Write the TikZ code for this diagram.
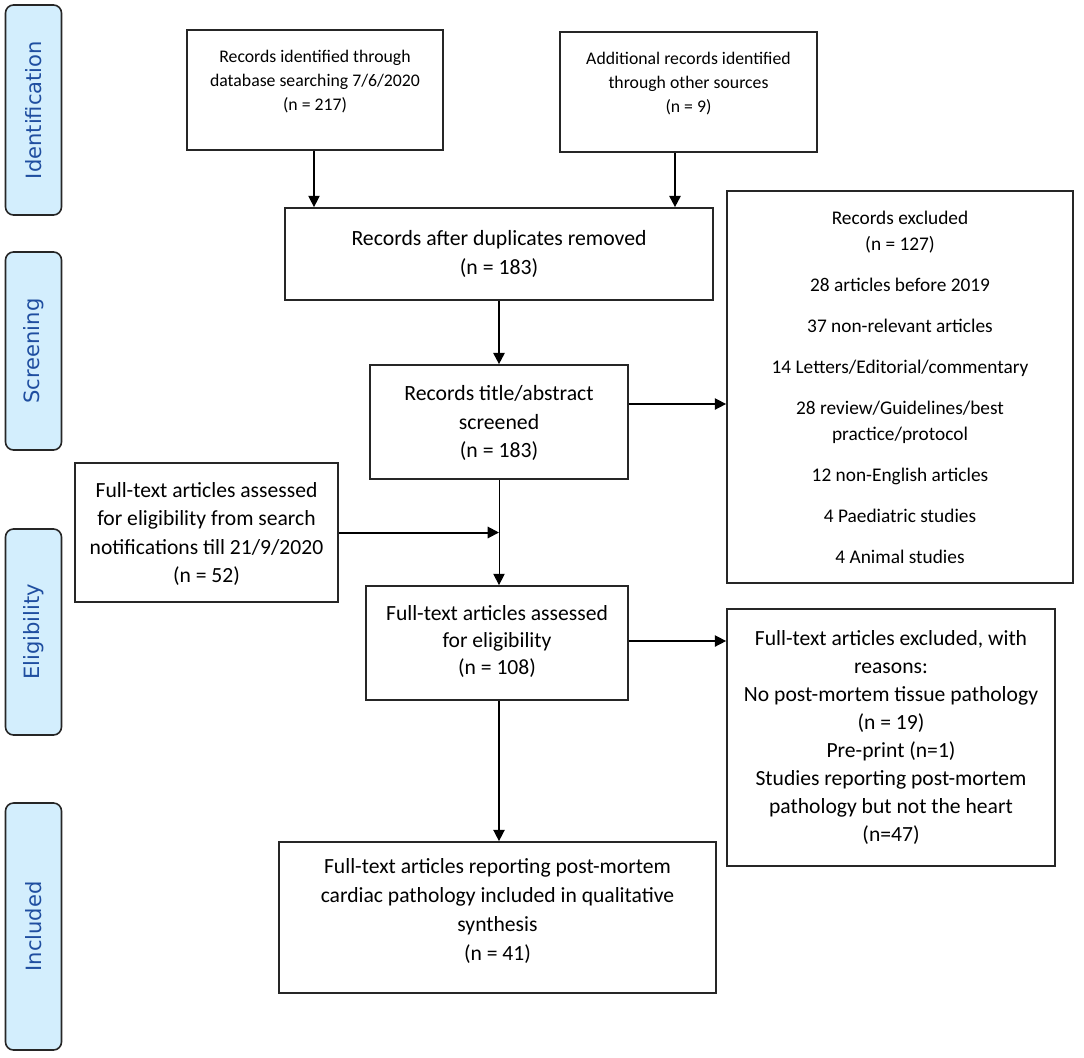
\documentclass[tikz,border=0pt]{standalone}
\usepackage{fontspec}
\setmainfont{Carlito}
\newfontfamily\sidefont{DejaVu Sans}
\usetikzlibrary{arrows.meta,calc}
\definecolor{sidefill}{HTML}{D3EEFD}
\definecolor{sidetext}{HTML}{1F4EA0}
\begin{document}
\begin{tikzpicture}[x=0.75pt,y=-0.75pt,
 box/.style={draw=black!85,line width=1.3pt,inner sep=0pt},
 txt/.style={align=center,inner sep=0pt},
 side/.style={draw=black!85,line width=1.2pt,fill=sidefill,rounded corners=6pt,minimum width=42pt,inner sep=0pt},
 sidelab/.style={rotate=90,text=sidetext,inner sep=0pt,font=\sidefont\fontsize{15.8}{18}\selectfont},
 arr/.style={-{Triangle[length=8.5pt,width=8.5pt]},line width=1.1pt},
]
\useasboundingbox (0,0) rectangle (1084,1057);
% side labels
\node[side,minimum height=157.5pt] (s1) at (33.5,110) {};
\node[sidelab] (s1t) at (s1.center) {Identification};
\node[side,minimum height=148.5pt] (s2) at (33.5,351) {};
\node[sidelab] (s2t) at (s2.center) {Screening};
\node[side,minimum height=154.5pt] (s3) at (33.5,632) {};
\node[sidelab] (s3t) at (s3.center) {Eligibility};
\node[side,minimum height=185.25pt] (s4) at (33.5,926.5) {};
\node[sidelab] (s4t) at (s4.center) {Included};
% boxes
\node[box,minimum width=192pt,minimum height=90pt] (a) at (315,90) {};
\node[txt,font=\fontsize{13.3}{18}\selectfont] (at) at (315,82) {Records identified through\\database searching 7/6/2020\\(n = 217)};
\node[box,minimum width=192.75pt,minimum height=90pt] (b) at (688.5,92) {};
\node[txt,font=\fontsize{13.3}{18}\selectfont] (bt) at (688.5,84) {Additional records identified\\through other sources\\(n = 9)};
\node[box,minimum width=321pt,minimum height=69pt] (c) at (499,254) {};
\node[txt,font=\fontsize{16.3}{21.5}\selectfont] (ct) at (499,254) {Records after duplicates removed\\(n = 183)};
\node[box,minimum width=193.5pt,minimum height=85.5pt] (d) at (499,422) {};
\node[txt,font=\fontsize{16.3}{21.4}\selectfont] (dt) at (499,423) {Records title/abstract\\screened\\(n = 183)};
\node[box,minimum width=259.5pt,minimum height=294pt] (e) at (900,387) {};
\node[txt,font=\fontsize{14.5}{19.5}\selectfont] (et) at (900,387) {Records excluded\\(n = 127)\\[11.25pt]28 articles before 2019\\[11.25pt]37 non-relevant articles\\[11.25pt]14 Letters/Editorial/commentary\\[11.25pt]28 review/Guidelines/best\\practice/protocol\\[11.25pt]12 non-English articles\\[11.25pt]4 Paediatric studies\\[11.25pt]4 Animal studies};
\node[box,minimum width=197.25pt,minimum height=104.25pt] (f) at (206.5,532.5) {};
\node[txt,font=\fontsize{16.2}{21.25}\selectfont] (ft) at (206.5,534) {Full-text articles assessed\\for eligibility from search\\notifications till 21/9/2020\\(n = 52)};
\node[box,minimum width=196.5pt,minimum height=85.5pt] (g) at (497,643) {};
\node[txt,font=\fontsize{16.2}{20.25}\selectfont] (gt) at (497,641) {Full-text articles assessed\\for eligibility\\(n = 108)};
\node[box,minimum width=246pt,minimum height=192.75pt] (h) at (891,737.5) {};
\node[txt,font=\fontsize{16.2}{21}\selectfont] (ht) at (891,737.5) {Full-text articles excluded, with\\reasons:\\No post-mortem tissue pathology\\(n = 19)\\Pre-print (n=1)\\Studies reporting post-mortem\\pathology but not the heart\\(n=47)};
\node[box,minimum width=327.75pt,minimum height=113.25pt] (i) at (497.5,917.5) {};
\node[txt,font=\fontsize{16.2}{21.75}\selectfont] (it) at (497.5,911) {Full-text articles reporting post-mortem\\cardiac pathology included in qualitative\\synthesis\\(n = 41)};
% connectors
\draw[arr,line width=1pt] ($(a.south)+(-1,0)$) -- ($(a.south |- c.north)+(-1,0)$);
\draw[arr,line width=1.5pt] ($(b.south)+(-13.5,0)$) -- ($(b.south |- c.north)+(-13.5,0)$);
\draw[arr,line width=1.5pt] (c.south) -- (d.north);
\draw[arr] ($(d.east)+(0,-18)$) -- ($(d.east -| e.west)+(0,-18)$);
\draw[arr,line width=0.75pt] (d.south) -- (d.south |- g.north);
\draw[arr,line width=1.5pt] (f.east) -- (f.east -| d.south);
\draw[arr] ($(g.east)+(0,-2)$) -- ($(g.east -| h.west)+(0,-2)$);
\draw[arr] (g.south -| d.south) -- (d.south |- i.north);
\end{tikzpicture}
\end{document}
